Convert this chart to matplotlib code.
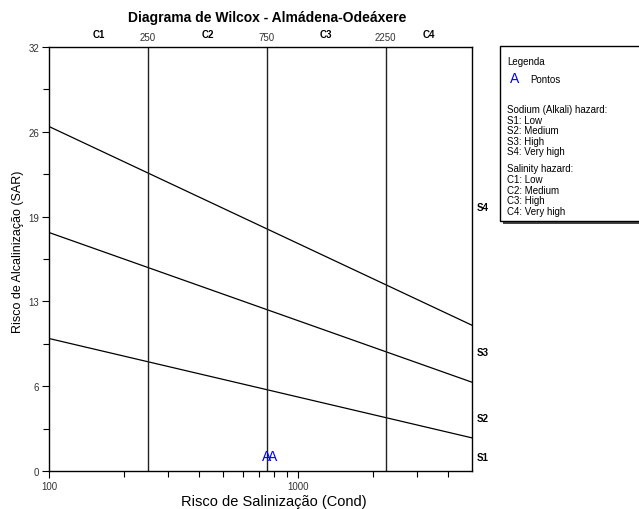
import numpy as np
import matplotlib
matplotlib.use("Agg")
import matplotlib.pyplot as plt
from matplotlib.patches import Rectangle
from matplotlib.ticker import FixedLocator, FixedFormatter, NullFormatter

plt.rcParams['font.family'] = ['Liberation Sans', 'DejaVu Sans']

# data
cond_range = [100, 5000]
salinity_limits = [250, 750, 2250]
salinity_labels = ['C1', 'C2', 'C3', 'C4']
sodium_labels = ['S1', 'S2', 'S3', 'S4']
# boundary lines (SAR at cond=100 and cond=5000)
sar_left = [10.0, 18.0, 26.0]
sar_right = [2.5, 6.7, 11.0]
sar_ticks = [0, 6.4, 12.8, 19.2, 25.6, 32]
sar_minor = [3.2, 9.6, 16.0, 22.4, 28.8]
point_cond = [745, 792]
point_sar = [1.15, 1.15]
point_label = 'A'

W, H = 639, 510
fig = plt.figure(figsize=(W / 100, H / 100), dpi=100)


def fx(x):
    return x / W


def fy(y):
    return 1 - y / H


ax = fig.add_axes([fx(49), fy(472), fx(472) - fx(49), fy(48) - fy(472)])
ax.set_xscale('log')
ax.set_xlim(cond_range)
ax.set_ylim(0, 32)

for sl, sr in zip(sar_left, sar_right):
    ax.plot(cond_range, [sl, sr], color='black', lw=0.9)
for c in salinity_limits:
    ax.axvline(c, color='#222222', lw=1.0)

for xc, yc in zip(point_cond, point_sar):
    ax.text(xc, yc, point_label, color='blue', fontsize=10, ha='center', va='center')

# axis ticks
ax.yaxis.set_major_locator(FixedLocator(sar_ticks))
ax.yaxis.set_major_formatter(FixedFormatter([f"{v:.0f}" for v in sar_ticks]))
ax.yaxis.set_minor_locator(FixedLocator(sar_minor))
ax.xaxis.set_major_locator(FixedLocator([100, 1000]))
ax.xaxis.set_major_formatter(FixedFormatter(['100', '1000']))
ax.xaxis.set_minor_locator(FixedLocator([200, 300, 400, 500, 600, 700, 800, 900, 2000, 3000, 4000]))
ax.xaxis.set_minor_formatter(NullFormatter())
ax.tick_params(which='major', length=5, width=0.8, labelsize=7, labelcolor='#333333', pad=2)
ax.tick_params(which='minor', length=4, width=0.8)
for s in ax.spines.values():
    s.set_linewidth(1.0)

fig.text(fx(274), fy(502), 'Risco de Salinização (Cond)', fontsize=10.5, ha='center', va='center')
fig.text(fx(18.5), fy(252), 'Risco de Alcalinização (SAR)', fontsize=9, ha='center', va='center',
         rotation=90)

# top labels
for c in salinity_limits:
    ax.text(c, 1.012, str(c), transform=ax.get_xaxis_transform(), ha='center',
            va='bottom', fontsize=7, color='#333333')
edges = [cond_range[0]] + salinity_limits + [cond_range[1]]
for i, lab in enumerate(salinity_labels):
    xm = np.sqrt(edges[i] * edges[i + 1])
    ax.text(xm, 1.018, lab, transform=ax.get_xaxis_transform(), ha='center',
            va='bottom', fontsize=7, fontweight='bold')

s_pos = [458, 419, 353, 208]
for lab, yp in zip(sodium_labels, s_pos):
    fig.text(fx(477), fy(yp), lab, ha='left', va='center', fontsize=7, fontweight='bold')

fig.text(fx(267), fy(18), 'Diagrama de Wilcox - Almádena-Odeáxere', ha='center',
         va='center', fontsize=10, fontweight='bold')

# legend box
fig.patches.append(Rectangle((fx(503), fy(225)), fx(160), fy(51) - fy(225), transform=fig.transFigure,
                             facecolor='#444444', edgecolor='none', zorder=1))
fig.patches.append(Rectangle((fx(500), fy(222)), fx(160), fy(47) - fy(222), transform=fig.transFigure,
                             facecolor='white', edgecolor='black', lw=1.0, zorder=2))
lx = fx(507)
fig.text(lx, fy(62), 'Legenda', fontsize=7, va='center')
fig.text(fx(515), fy(79), point_label, fontsize=10, color='blue', ha='center', va='center')
fig.text(fx(530), fy(80), 'Pontos', fontsize=7, va='center')
fig.text(lx, fy(110), 'Sodium (Alkali) hazard:', fontsize=7, va='center')
for lab, desc, yp in zip(sodium_labels, ['Low', 'Medium', 'High', 'Very high'], [121, 131, 142, 152]):
    fig.text(lx, fy(yp), f'{lab}: {desc}', fontsize=7, va='center')
fig.text(lx, fy(169), 'Salinity hazard:', fontsize=7, va='center')
for lab, desc, yp in zip(salinity_labels, ['Low', 'Medium', 'High', 'Very high'], [180, 191, 201, 212]):
    fig.text(lx, fy(yp), f'{lab}: {desc}', fontsize=7, va='center')

fig.savefig('out.png', dpi=100)
